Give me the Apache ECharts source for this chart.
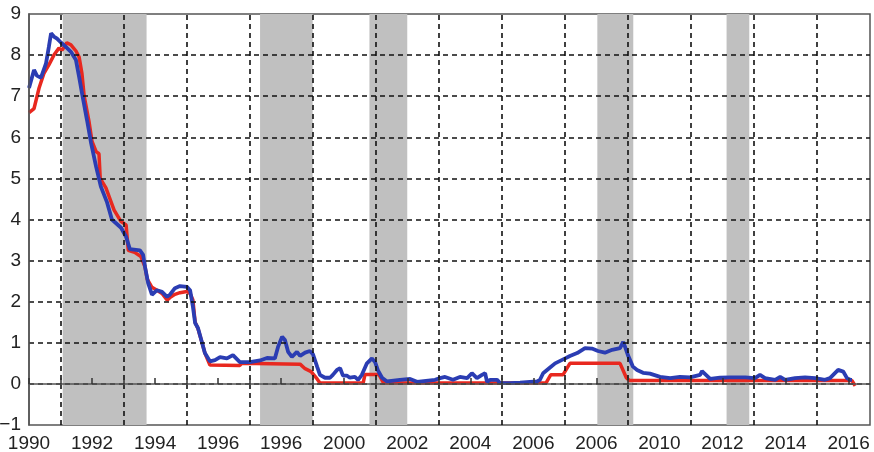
<!DOCTYPE html>
<html>
<head>
<meta charset="utf-8">
<script src="https://cdn.jsdelivr.net/npm/echarts@6/dist/echarts.min.js"></script>
<style>html,body{margin:0;padding:0;background:#fff}#c{width:874px;height:452px}</style>
</head>
<body>
<div id="c"></div>
<script>
// Tick labels (as printed in the original, including its duplicated labels)
const labelYears = [1990,1992,1994,1996,1998,2000,2002,2004,2006,2008,2010,2012,2014,2016];
const labelTexts = ['1990','1992','1994','1996','1996','2000','2002','2004','2006','2006','2010','2012','2014','2016'];
const gridYears = [1991,1993,1995,1997,1999,2001,2003,2005,2007,2009,2011,2013,2015];
const gridValues = [0,1,2,3,4,5,6,7,8];
// Shaded periods [start, end]
const shadeStart = [1991.07, 1997.33, 2000.80, 2008.03, 2012.13];
const shadeEnd   = [1993.73, 1999.00, 2002.00, 2009.17, 2012.85];
// Red series
const redSeries = [
[1990.00,6.6],[1990.16,6.7],[1990.32,7.2],[1990.47,7.55],[1990.63,7.76],[1990.79,8.0],[1990.95,8.17],
[1991.05,8.12],[1991.20,8.3],[1991.33,8.25],[1991.49,8.1],[1991.59,7.95],[1991.68,7.55],[1991.75,7.0],
[1991.90,6.4],[1992.00,5.9],[1992.13,5.65],[1992.22,5.6],[1992.26,5.0],[1992.44,4.77],[1992.70,4.23],
[1992.92,3.95],[1993.08,3.87],[1993.15,3.25],[1993.35,3.2],[1993.55,3.1],[1993.68,2.85],[1993.75,2.55],
[1993.90,2.35],[1994.06,2.28],[1994.22,2.2],[1994.38,2.04],[1994.47,2.1],[1994.63,2.18],[1994.79,2.22],
[1995.01,2.25],[1995.11,2.2],[1995.20,2.04],[1995.27,1.5],[1995.36,1.35],[1995.49,1.0],[1995.58,0.75],
[1995.74,0.46],[1996.69,0.45],[1996.75,0.5],[1998.60,0.48],[1998.76,0.37],[1998.95,0.3],[1999.14,0.12],
[1999.23,0.02],[2000.60,0.02],[2000.66,0.23],[2001.10,0.23],[2001.25,0.02],[2006.40,0.02],[2006.55,0.22],
[2006.94,0.22],[2007.16,0.5],[2008.75,0.5],[2008.95,0.15],[2009.05,0.08],[2016.11,0.08],[2016.21,-0.05]
];
// Blue series
const blueSeries = [
[1990.00,7.2],[1990.16,7.64],[1990.25,7.5],[1990.38,7.45],[1990.54,7.8],[1990.63,8.2],[1990.70,8.53],
[1990.79,8.45],[1990.89,8.4],[1991.02,8.3],[1991.17,8.2],[1991.33,8.08],[1991.49,7.88],[1991.59,7.47],
[1991.68,7.08],[1991.84,6.42],[1991.97,5.86],[1992.13,5.28],[1992.28,4.8],[1992.47,4.43],[1992.63,4.0],
[1992.92,3.8],[1993.08,3.58],[1993.20,3.28],[1993.52,3.25],[1993.62,3.14],[1993.68,2.85],[1993.78,2.45],
[1993.90,2.17],[1994.06,2.28],[1994.22,2.24],[1994.38,2.12],[1994.47,2.17],[1994.63,2.33],[1994.79,2.38],
[1995.01,2.36],[1995.11,2.28],[1995.20,1.88],[1995.27,1.48],[1995.36,1.36],[1995.49,1.0],[1995.58,0.75],
[1995.74,0.55],[1995.90,0.58],[1996.06,0.65],[1996.28,0.62],[1996.47,0.7],[1996.69,0.53],[1997.01,0.53],
[1997.33,0.57],[1997.55,0.63],[1997.80,0.62],[1997.90,0.9],[1998.03,1.15],[1998.12,1.07],[1998.22,0.78],
[1998.34,0.66],[1998.50,0.78],[1998.60,0.68],[1998.76,0.76],[1998.91,0.8],[1999.01,0.72],[1999.14,0.42],
[1999.23,0.22],[1999.39,0.15],[1999.55,0.15],[1999.64,0.22],[1999.77,0.34],[1999.87,0.38],[1999.96,0.2],
[2000.09,0.2],[2000.18,0.15],[2000.34,0.17],[2000.44,0.1],[2000.56,0.22],[2000.72,0.5],[2000.88,0.62],
[2000.98,0.53],[2001.07,0.33],[2001.20,0.15],[2001.36,0.06],[2001.77,0.1],[2002.09,0.12],[2002.31,0.05],
[2002.88,0.1],[2003.04,0.14],[2003.20,0.17],[2003.45,0.1],[2003.67,0.17],[2003.90,0.14],[2004.05,0.26],
[2004.21,0.14],[2004.37,0.22],[2004.47,0.26],[2004.53,0.05],[2004.63,0.1],[2004.85,0.1],[2004.94,0.02],
[2005.26,0.02],[2005.58,0.03],[2005.89,0.05],[2006.12,0.06],[2006.21,0.1],[2006.31,0.26],[2006.53,0.4],
[2006.69,0.5],[2006.85,0.56],[2007.01,0.62],[2007.16,0.68],[2007.39,0.75],[2007.64,0.87],[2007.86,0.86],
[2008.05,0.8],[2008.27,0.76],[2008.50,0.83],[2008.75,0.87],[2008.85,1.02],[2008.91,0.9],[2009.00,0.7],
[2009.16,0.42],[2009.29,0.34],[2009.48,0.27],[2009.70,0.25],[2010.02,0.17],[2010.34,0.14],[2010.65,0.17],
[2010.97,0.16],[2011.29,0.22],[2011.35,0.31],[2011.61,0.12],[2011.92,0.15],[2012.24,0.16],[2012.72,0.16],
[2013.03,0.14],[2013.19,0.22],[2013.35,0.14],[2013.67,0.1],[2013.83,0.17],[2013.99,0.1],[2014.30,0.14],
[2014.62,0.16],[2014.94,0.14],[2015.25,0.1],[2015.41,0.14],[2015.67,0.34],[2015.83,0.3],[2015.95,0.14],
[2016.05,0.1],[2016.11,0.1]
];

const chart = echarts.init(document.getElementById('c'), null, {renderer:'canvas'});
const dash = {color:'#111', width:1.6, type:[5,4]};
const font = 'Liberation Sans, Arial, Helvetica, sans-serif';
chart.setOption({
  animation:false,
  grid:{left:29, right:4, top:14, bottom:27, containLabel:false, outerBoundsMode:'none',
        show:true, borderColor:'#555', borderWidth:1.5, backgroundColor:'transparent'},
  xAxis:{
    type:'value', min:1990, max:2016.68, interval:1, z:10,
    axisLine:{show:true, lineStyle:{color:'#555', width:1.5}},
    axisTick:{show:true, inside:true, length:6, lineStyle:{color:'#333', width:1.5}},
    splitLine:{show:false},
    axisLabel:{
      showMaxLabel:false, margin:9, color:'#222', fontSize:19, fontFamily:font,
      formatter:function(v){ const i = labelYears.indexOf(Math.round(v)); return (i>=0 && Math.abs(v-Math.round(v))<1e-6) ? labelTexts[i] : ''; }
    }
  },
  yAxis:{
    type:'value', min:-1, max:9, interval:1, z:10,
    axisLine:{show:true, lineStyle:{color:'#555', width:1.5}},
    axisTick:{show:false},
    splitLine:{show:false},
    axisLabel:{margin:8, color:'#222', fontSize:19, fontFamily:font,
      formatter:function(v){ return v<0 ? '\u2212'+Math.abs(v) : String(v); }}
  },
  series:[
    {type:'line', data:[], z:1, silent:true,
     markArea:{silent:true, itemStyle:{color:'#c0c0c0'},
       data: shadeStart.map((s,i)=>[{xAxis:s},{xAxis:shadeEnd[i]}])}},
    {type:'line', data:[], z:2, silent:true,
     markLine:{silent:true, symbol:'none', label:{show:false}, lineStyle:dash,
       data: gridYears.map(y=>({xAxis:y})).concat(gridValues.map(v=>({yAxis:v})))}},
    {type:'line', data:redSeries, z:3, showSymbol:false, symbol:'none',
     lineStyle:{color:'#e8281f', width:3.5}, silent:true},
    {type:'line', data:blueSeries, z:4, showSymbol:false, symbol:'none',
     lineStyle:{color:'#2b3db3', width:3.8}, silent:true}
  ]
});
</script>
</body>
</html>
